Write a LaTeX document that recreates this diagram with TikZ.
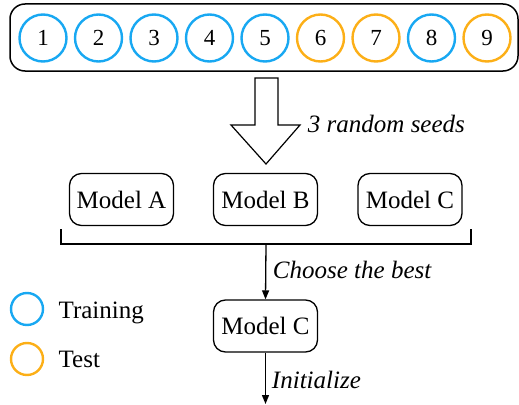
\documentclass[tikz,border=0pt]{standalone}
\usepackage{fontspec}
\setmainfont{Liberation Serif}
\usepackage{xcolor}
\definecolor{trainblue}{HTML}{18A8F2}
\definecolor{testorange}{HTML}{FCAF17}
\usepackage{tikz}
\usetikzlibrary{arrows.meta, positioning}

\begin{document}
\begin{tikzpicture}[x=1pt, y=-1pt, line width=1.3pt,
	digit/.style={circle, line width=2.4pt, minimum size=47pt, inner sep=0pt, font=\fontsize{23}{23}\selectfont},
	model/.style={draw, rounded corners=12pt, minimum width=104pt, minimum height=52pt, inner sep=0pt, font=\fontsize{25}{25}\selectfont},
	lab/.style={font=\fontsize{25}{25}\selectfont\itshape, anchor=west},
	arr/.style={-{Triangle[length=9pt, width=7pt]}}]
	
	\useasboundingbox (0, 0) rectangle (519, 404);
	
	% the nine samples
	\draw[rounded corners=15pt, line width=1.5pt] (10, 4) rectangle (518, 71);
	\foreach \i/\c in {1/trainblue, 2/trainblue, 3/trainblue, 4/trainblue, 5/trainblue, 6/testorange, 7/testorange, 8/trainblue, 9/testorange} {
		\node[digit, draw=\c] (c\i) at ({43 + (\i-1)*55.5}, 38) {\i};
	}
	
	% big arrow
	\draw[line width=1.2pt] (255, 78) -- (278, 78) -- (278, 125) -- (300, 125) -- (266, 164)
		-- (231, 125) -- (255, 125) -- cycle;
	\node[lab] (seeds) at (304, 124) {3 random seeds};
	
	\node[model] (ma) at (121.5, 199.5) {Model A};
	\node[model] (mb) at (265.5, 199.5) {Model B};
	\node[model] (mc) at (410, 199.5) {Model C};
	
	\draw (61, 229) |- (471, 244) -- (471, 229);
	\coordinate (join) at (266, 244);
	
	\node[model] (best) at (265.5, 326) {Model C};
	\draw[arr] (join) -- (best.north);
	\node[lab] (choose) at (269, 270) {Choose the best};
	
	\coordinate (out) at (265.5, 404);
	\draw[arr] (best.south) -- (out);
	\node[lab] (init) at (268, 380) {Initialize};
	
	% legend
	\node[digit, draw=trainblue, minimum size=32pt] (ltrain) at (27, 309) {};
	\node[digit, draw=testorange, minimum size=32pt] (ltest) at (27, 359) {};
	\node[font=\fontsize{25}{25}\selectfont, anchor=base west, inner sep=0pt] (ttrain) at (58, 318) {Training};
	\node[font=\fontsize{25}{25}\selectfont, anchor=base west, inner sep=0pt] (ttest) at (58, 367) {Test};
\end{tikzpicture}
\end{document}
